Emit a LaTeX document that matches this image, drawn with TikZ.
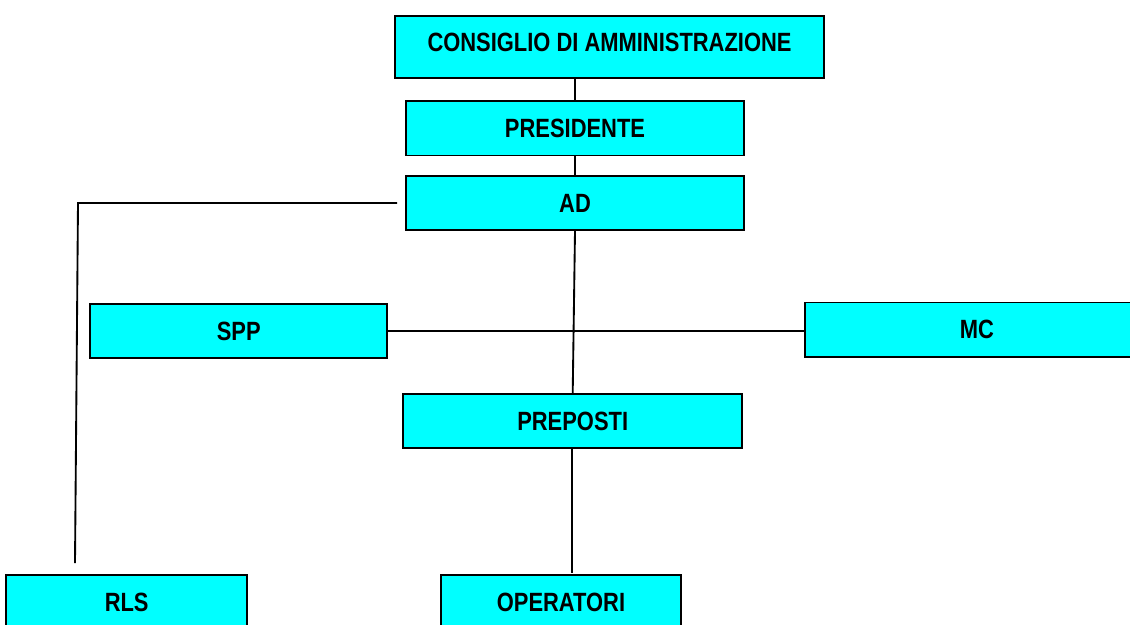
\documentclass[tikz,border=0pt]{standalone}
\usepackage{fontspec}
\setmainfont{Liberation Sans}[FakeStretch=0.83]
\definecolor{boxcyan}{RGB}{0,255,255}
\begin{document}
\begin{tikzpicture}[x=0.75pt,y=-0.75pt,
  orgbox/.style={draw=black,line width=1.4pt,fill=boxcyan,inner sep=0pt,
    font=\fontsize{19.8pt}{22pt}\selectfont\bfseries},
  conn/.style={draw=black,line width=1.4pt}]
\useasboundingbox (0,0) rectangle (1130,624);
\node[orgbox,minimum width=429*0.75pt,minimum height=62*0.75pt,text depth=9*0.75pt] (cda) at (609.5,47) {CONSIGLIO DI AMMINISTRAZIONE};
\node[orgbox,minimum width=338*0.75pt,minimum height=54.5*0.75pt] (pres) at (575,128.3) {PRESIDENTE};
\node[orgbox,minimum width=338*0.75pt,minimum height=54.3*0.75pt] (ad) at (575,203) {AD};
\node[orgbox,minimum width=296.7*0.75pt,minimum height=54.3*0.75pt] (spp) at (238.7,331.2) {SPP};
\node[orgbox,minimum width=344*0.75pt,minimum height=54.2*0.75pt] (mc) at (977,329.6) {MC};
\node[orgbox,minimum width=338.7*0.75pt,minimum height=54.3*0.75pt] (prep) at (572.7,421.2) {PREPOSTI};
\node[orgbox,minimum width=240.6*0.75pt,minimum height=54*0.75pt] (rls) at (126.7,602) {RLS};
\node[orgbox,minimum width=240*0.75pt,minimum height=54*0.75pt] (oper) at (561,602) {OPERATORI};
\coordinate (adleft) at (397,203);
\coordinate (corner) at (78,203);
\coordinate (rlsend) at (75,563);
\coordinate (operend) at (572,573);
\draw[conn] (pres.north) -- (pres.north |- cda.south);
\draw[conn] (ad.north) -- (ad.north |- pres.south);
\draw[conn] (ad.south) -- (prep.north);
\draw[conn] (spp.east) -- (spp.east -| mc.west);
\draw[conn] (prep.south -| operend) -- (operend);
\draw[conn] (adleft) -- (corner) -- (rlsend);
\end{tikzpicture}
\end{document}
